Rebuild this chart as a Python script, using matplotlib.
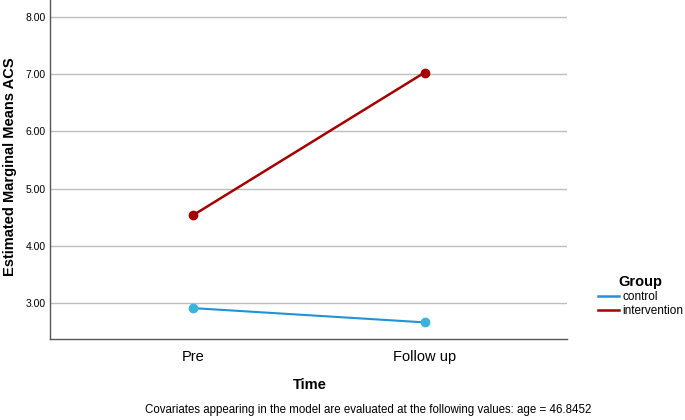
import matplotlib.pyplot as plt
from matplotlib.lines import Line2D

plt.rcParams['font.family'] = ['Liberation Sans', 'DejaVu Sans']

# estimated marginal means
times = ["Pre", "Follow up"]
control = [2.91, 2.66]
intervention = [4.53, 7.03]
yticks = [3, 4, 5, 6, 7, 8]

ctrl_col = "#1f93d6"
int_col = "#a50000"

fig = plt.figure(figsize=(6.85, 4.2), dpi=100)
ax = fig.add_axes([0.073, 0.193, 0.755, 0.807])

x = list(range(len(times)))
ax.plot(x, control, color=ctrl_col, lw=1.5, marker="o", ms=6,
        mfc="#3ab4dc", mec="#3ab4dc", zorder=3)
ax.plot(x, intervention, color=int_col, lw=1.8, marker="o", ms=6,
        mfc=int_col, mec=int_col, zorder=3)

ax.set_xlim(-0.615, 1.615)
ax.set_ylim(2.37, 8.30)
ax.set_xticks(x)
ax.set_xticklabels(times, fontsize=10.5)
ax.set_yticks(yticks)
ax.set_yticklabels([f"{v:.2f}" for v in yticks], fontsize=7.5)
ax.tick_params(axis="y", length=0, pad=3)
ax.tick_params(axis="x", length=0, pad=8)
ax.yaxis.grid(True, color="#bdbdbd", lw=1)
ax.set_axisbelow(True)
for s in ["top", "right"]:
    ax.spines[s].set_visible(False)
for s in ["left", "bottom"]:
    ax.spines[s].set_color("#555555")
    ax.spines[s].set_linewidth(1)

fig.text(310 / 685, 1 - 385 / 420, "Time", fontsize=10.5, fontweight="bold",
         ha="center", va="center")
fig.text(10 / 685, 1 - 167 / 420, "Estimated Marginal Means ACS", fontsize=10.5,
         fontweight="bold", rotation=90, ha="center", va="center")

handles = [Line2D([], [], color=ctrl_col, lw=1.8), Line2D([], [], color=int_col, lw=1.8)]
leg = ax.legend(handles, ["control", "intervention"], loc="upper left",
                bbox_to_anchor=(0.873, 0.345), bbox_transform=fig.transFigure,
                frameon=False, title="Group", fontsize=8.5, handlelength=1.8,
                handletextpad=0.25, labelspacing=0.15, borderaxespad=0, borderpad=0)
leg.get_title().set_fontweight("bold")
leg.get_title().set_fontsize(10.5)
leg._legend_box.align = "center"

fig.text(368 / 685, 1 - 410 / 420,
         "Covariates appearing in the model are evaluated at the following values: age = 46.8452",
         ha="center", va="center", fontsize=8.3)

fig.savefig("out.png", dpi=100)
